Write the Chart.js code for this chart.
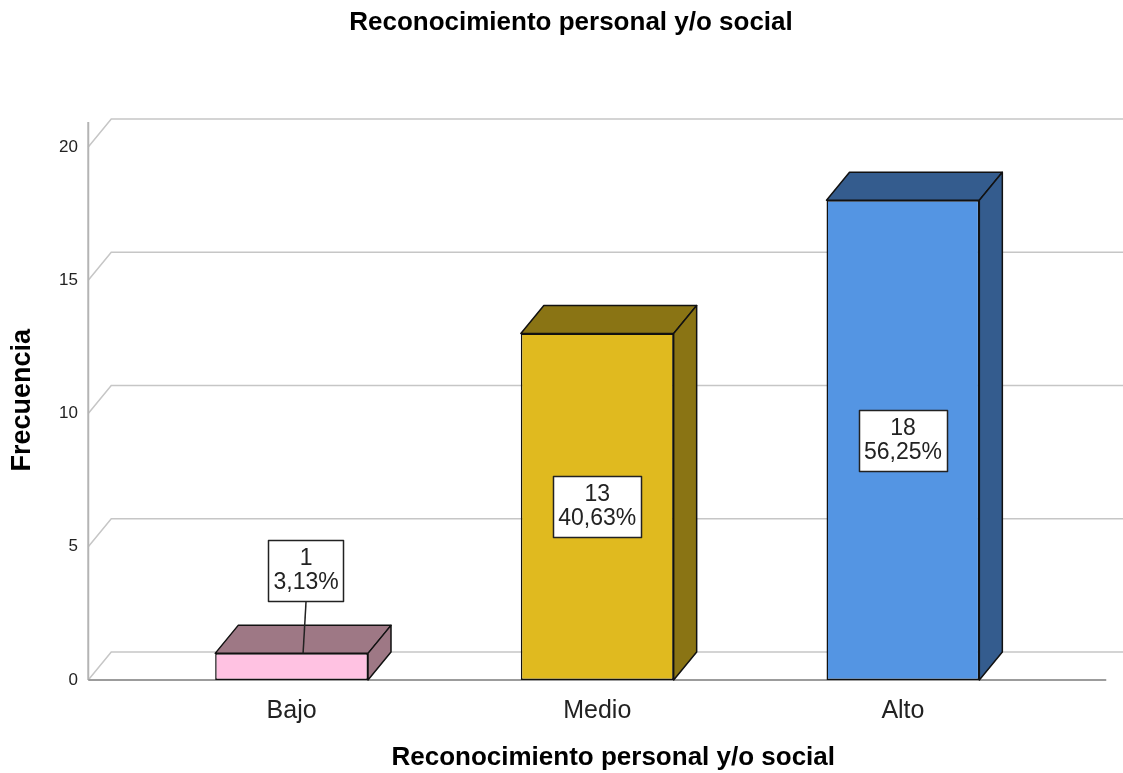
<!DOCTYPE html>
<html lang="es">
<head>
<meta charset="utf-8">
<title>Reconocimiento personal y/o social</title>
<script src="https://cdn.jsdelivr.net/npm/chart.js@4.4.1/dist/chart.umd.min.js"></script>
<style>
  html, body { margin: 0; padding: 0; background: #fff; }
  #grafico { display: block; }
</style>
</head>
<body>
<canvas id="grafico" width="1123" height="773"></canvas>
<script>
    const categorias = ["Bajo", "Medio", "Alto"];
    const frecuencias = [1, 13, 18];
    const porcentajes = ["3,13%", "40,63%", "56,25%"];
    const ticksY = [0, 5, 10, 15, 20];
    const coloresFrente = ["#ffc2e2", "#e0ba1f", "#5495e3"];
    const coloresSombra = ["#9e7885", "#8a7414", "#345c8e"];
    const titulo = "Reconocimiento personal y/o social";
    const tituloX = "Reconocimiento personal y/o social";

    const fuente = "'Liberation Sans', Arial, sans-serif";
    // profundidad del efecto 3D
    const profX = 23;
    const profY = -28;
    const margenMarco = 50.5;

    function poligono(ctx, puntos) {
      ctx.beginPath();
      ctx.moveTo(puntos[0][0], puntos[0][1]);
      for (let i = 1; i < puntos.length; i++) ctx.lineTo(puntos[i][0], puntos[i][1]);
      ctx.closePath();
      ctx.fill();
      ctx.stroke();
    }

    const marco3d = {
      id: 'marco3d',
      beforeDatasetsDraw(chart) {
        const { ctx, chartArea, scales: { y } } = chart;
        const izq = chartArea.left - margenMarco;
        const der = chartArea.right + margenMarco;
        const y0 = y.getPixelForValue(0);
        ctx.save();
        ctx.lineWidth = 1.5;
        ctx.strokeStyle = '#c6c6c6';
        y.ticks.forEach(t => {
          const py = y.getPixelForValue(t.value);
          ctx.beginPath();
          ctx.moveTo(izq, py);
          ctx.lineTo(izq + profX, py + profY);
          ctx.lineTo(der + profX, py + profY);
          ctx.stroke();
        });
        // pared izquierda
        ctx.strokeStyle = '#b4b4b4';
        ctx.lineWidth = 2;
        ctx.beginPath();
        ctx.moveTo(izq, y0);
        ctx.lineTo(izq, chartArea.top + 1.5);
        ctx.stroke();
        // borde frontal del piso
        ctx.strokeStyle = '#9c9c9c';
        ctx.beginPath();
        ctx.moveTo(izq, y0);
        ctx.lineTo(der, y0);
        ctx.stroke();
        ctx.restore();
      },
      afterDatasetsDraw(chart) {
        const ctx = chart.ctx;
        const meta = chart.getDatasetMeta(0);
        ctx.save();
        meta.data.forEach((barra, i) => {
          const { x: cx, y: arriba, base, width } = barra.getProps(['x', 'y', 'base', 'width'], true);
          const l = cx - width / 2, r = cx + width / 2;
          ctx.fillStyle = coloresSombra[i];
          ctx.strokeStyle = '#111';
          ctx.lineWidth = 1.5;
          ctx.lineJoin = 'round';
          poligono(ctx, [[l, arriba], [l + profX, arriba + profY], [r + profX, arriba + profY], [r, arriba]]);
          poligono(ctx, [[r, arriba], [r + profX, arriba + profY], [r + profX, base + profY], [r, base]]);

          // etiqueta con frecuencia y porcentaje
          ctx.font = `23px ${fuente}`;
          const lineas = [String(frecuencias[i]), porcentajes[i]];
          const anchoCaja = Math.max(...lineas.map(t => ctx.measureText(t).width)) + 10;
          const altoCaja = 61;
          let cxCaja = cx;
          let cyCaja = (arriba + base) / 2;
          if (base - arriba < altoCaja + 20) {
            cxCaja = cx + profX * 0.63;
            cyCaja = arriba - 83;
            ctx.strokeStyle = '#222';
            ctx.lineWidth = 1.5;
            ctx.beginPath();
            ctx.moveTo(cxCaja, cyCaja + altoCaja / 2);
            ctx.lineTo(cx + profX / 2, arriba);
            ctx.stroke();
          }
          const x0 = Math.round(cxCaja - anchoCaja / 2) + 0.5;
          const y0 = Math.round(cyCaja - altoCaja / 2) + 0.5;
          ctx.fillStyle = '#fff';
          ctx.strokeStyle = '#222';
          ctx.lineWidth = 1.5;
          ctx.fillRect(x0, y0, Math.round(anchoCaja), altoCaja);
          ctx.strokeRect(x0, y0, Math.round(anchoCaja), altoCaja);
          ctx.fillStyle = '#222';
          ctx.textAlign = 'center';
          ctx.textBaseline = 'middle';
          ctx.fillText(lineas[0], cxCaja, cyCaja - 12);
          ctx.fillText(lineas[1], cxCaja, cyCaja + 12);
        });
        ctx.restore();
      },
      afterDraw(chart) {
        // títulos (ligeramente corridos a la derecha como en el original)
        const { ctx, chartArea } = chart;
        ctx.save();
        ctx.fillStyle = '#000';
        ctx.font = `bold 26px ${fuente}`;
        ctx.textAlign = 'center';
        ctx.textBaseline = 'middle';
        ctx.fillText(titulo, chart.width / 2 + 9.5, 23);
        ctx.fillText(tituloX, (chartArea.left + chartArea.right) / 2 + 16, 758);
        ctx.restore();
      }
    };

    const ctx = document.getElementById('grafico').getContext('2d');
    const grafico = new Chart(ctx, {
      type: 'bar',
      data: {
        labels: categorias,
        datasets: [{
          label: 'Frecuencia',
          data: frecuencias,
          backgroundColor: coloresFrente,
          borderColor: '#111',
          borderWidth: 1.5,
          borderSkipped: false,
          barPercentage: 0.5,
          categoryPercentage: 1.0
        }]
      },
      options: {
        responsive: false,
        animation: false,
        layout: { padding: { left: 0, right: 67.25, top: 120.4, bottom: 0 } },
        plugins: {
          legend: { display: false },
          tooltip: { enabled: false },
          title: { display: false }
        },
        scales: {
          x: {
            grid: { display: false },
            border: { display: false },
            ticks: {
              color: '#222',
              font: { family: fuente, size: 25 },
              padding: 8,
              maxRotation: 0,
              autoSkip: false
            },
            afterFit(escala) { escala.height = 93; }
          },
          y: {
            min: 0,
            max: 21,
            grid: { display: false, drawTicks: false },
            border: { display: false },
            afterBuildTicks(escala) { escala.ticks = ticksY.map(v => ({ value: v })); },
            ticks: {
              color: '#222',
              font: { family: fuente, size: 17 },
              padding: 60.75
            },
            title: {
              display: true,
              text: 'Frecuencia',
              color: '#000',
              font: { family: fuente, size: 27, weight: 'bold' },
              padding: { top: 6, bottom: 0 }
            },
            afterFit(escala) { escala.width = 138.75; }
          }
        }
      },
      plugins: [marco3d]
    });
</script>
</body>
</html>
